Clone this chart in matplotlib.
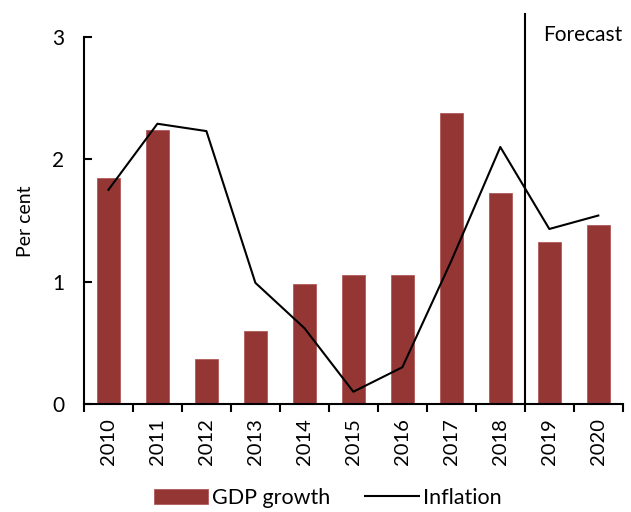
import numpy as np
import matplotlib.pyplot as plt
from matplotlib.ticker import FixedLocator, NullFormatter

plt.rcParams['font.family'] = ['Lato', 'DejaVu Sans']

years = ['2010', '2011', '2012', '2013', '2014', '2015', '2016', '2017', '2018', '2019', '2020']
gdp_growth = [1.85, 2.24, 0.37, 0.60, 0.98, 1.05, 1.05, 2.38, 1.72, 1.32, 1.46]
inflation = [1.75, 2.29, 2.23, 0.99, 0.62, 0.10, 0.30, 1.17, 2.10, 1.43, 1.54]
forecast_start = 8.5

bar_col = '#943634'

fig = plt.figure(figsize=(6.31, 5.12), dpi=100)
ax = fig.add_axes([0.133, 0.211, 0.854, 0.717])

x = np.arange(len(years))
bars = ax.bar(x, gdp_growth, width=0.48, color=bar_col, edgecolor='#b05a58', linewidth=0.6, label='GDP growth', zorder=2)
line, = ax.plot(x, inflation, color='black', lw=1.5, label='Inflation', zorder=3)

# forecast divider
ax.plot([forecast_start, forecast_start], [0, 3.19], color='black', lw=1.5, clip_on=False, zorder=4)
fig.text(0.86, 0.932, 'Forecast', fontsize=15, va='center', ha='left')

ax.set_xlim(-0.5, len(years) - 0.5)
ax.set_ylim(0, 3)
ax.set_yticks([0, 1, 2, 3])
ax.set_yticklabels(['0', '1', '2', '3'], fontsize=15)
ax.tick_params(axis='y', direction='in', length=6, width=1.5, pad=14)

# ticks between categories, labels at centres
ax.xaxis.set_major_locator(FixedLocator(np.arange(-0.5, len(years), 1.0)))
ax.xaxis.set_major_formatter(NullFormatter())
ax.xaxis.set_minor_locator(FixedLocator(x))
ax.set_xticklabels(years, minor=True, rotation=90, fontsize=14.5)
ax.tick_params(axis='x', which='major', direction='out', length=6, width=1.5)
ax.tick_params(axis='x', which='minor', length=0, pad=10)

for s in ['top', 'right']:
    ax.spines[s].set_visible(False)
for s in ['left', 'bottom']:
    ax.spines[s].set_linewidth(1.5)

fig.text(0.04, 0.568, 'Per cent', rotation=90, fontsize=14, va='center', ha='center')

fig.legend([bars, line], ['GDP growth', 'Inflation'], loc='center', bbox_to_anchor=(0.52, 0.028),
           ncol=2, frameon=False, fontsize=15.5, handlelength=2.5, columnspacing=1.6, handletextpad=0.2)

fig.savefig('out.png', dpi=100)
